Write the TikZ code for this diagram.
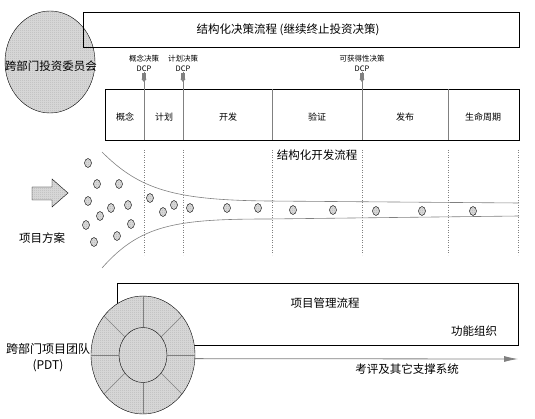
\documentclass[tikz,border=0pt]{standalone}
\usepackage{fontspec}
\setmainfont{Noto Sans CJK SC}
\usetikzlibrary{shapes.geometric,patterns,arrows.meta}

\pgfdeclarepatternformonly{finedots}{\pgfqpoint{-0.5pt}{-0.5pt}}{\pgfqpoint{1.5pt}{1.5pt}}%
  {\pgfqpoint{2pt}{2pt}}%
  {\pgfpathcircle{\pgfqpoint{0pt}{0pt}}{0.33pt}%
   \pgfpathcircle{\pgfqpoint{1pt}{1pt}}{0.33pt}%
   \pgfusepath{fill}}

\begin{document}
\begin{tikzpicture}[x=1pt,y=-1pt,
    box/.style={draw,line width=0.6pt},
    dotfill/.style={draw,preaction={fill=white},pattern=finedots},
    disc/.style={dotfill,ellipse,inner sep=0pt},
    seed/.style={dotfill,ellipse,inner sep=0pt,minimum width=7pt,minimum height=9pt},
    divider/.style={gray,line width=0.6pt},
    guide/.style={gray,dotted,line width=0.5pt},
    funnel/.style={gray,line width=0.6pt},
    dcptip/.style={gray,line width=4pt,-{Triangle[width=5pt,length=3pt]}},
    lbl/.style={inner sep=1pt,font=\fontsize{11.5}{13}\selectfont},
    phase/.style={inner sep=1pt,font=\fontsize{9}{10}\selectfont},
    dcp/.style={inner sep=0.5pt,align=center,font=\fontsize{7.5}{10}\selectfont}]
  \useasboundingbox (0,0) rectangle (535,419);

  % decision flow
  \node[disc,minimum width=90pt,minimum height=102pt] (boardc) at (50,62) {};
  \draw[box] (83,12) rectangle (519,47);
  \node[lbl] (topflow) at (288,30) {结构化决策流程 (继续终止投资决策)};
  \node[lbl] (board) at (51,66) {跨部门投资委员会};

  % phases
  \draw[box] (105,89) rectangle (519,140);
  \foreach \x/\str [count=\i] in {125/概念, 164/计划, 228/开发,
                                  317/验证, 405/发布, 483/生命周期}
    {\node[phase] (ph\i) at (\x,117) {\str};};
  \foreach \x in {272,448}
    {\draw[divider] (\x,89) -- (\x,140);};

  \node[dcp] (dcpA) at (144,63) {概念决策\\DCP};
  \node[dcp] (dcpB) at (183,63) {计划决策\\DCP};
  \node[dcp] (dcpC) at (362,63) {可获得性决策\\DCP};
  \foreach \n/\x in {A/144,B/183,C/362}
    {\coordinate (g\n) at (\x,140);
     \draw[divider] (dcp\n.south) -- (g\n);
     \draw[dcptip] ([yshift=-1pt]dcp\n.south) -- ++(0,9);};

  % development flow
  \foreach \x in {144,183,272,362,448,518}
    {\draw[guide] (\x,150) -- (\x,255);};
  \draw[funnel] (102,152) .. controls (140,190) and (175,200) .. (268,201) -- (519,203);
  \draw[funnel] (102,268) .. controls (140,225) and (175,219) .. (268,219) -- (519,216);
  \node[lbl] (devflow) at (317,155) {结构化开发流程};

  \foreach \x/\y [count=\i] in {88/163, 97/184, 119/184, 88/201, 128/205,
                                111/208, 100/216, 86/225, 131/224, 94/242,
                                117/236, 150/198, 163/212, 174/205, 190/208,
                                227/208, 258/208, 293/210, 333/210, 376/211,
                                422/211, 473/211}
    {\node[seed] (s\i) at (\x,\y) {};};

  \draw[dotfill] (32,187) -- (52,187) -- (52,179) -- (68,193) -- (52,207)
    -- (52,200) -- (32,200) -- cycle;
  \node[lbl] (plan) at (42,238) {项目方案};

  % project team
  \draw[box] (117,283) rectangle (518,345);
  \node[lbl] (pmflow) at (325,303) {项目管理流程};
  \node[lbl] (func) at (474,331) {功能组织};

  \node[disc,minimum width=104pt,minimum height=118pt] (ring) at (143,355) {};
  \node[disc,minimum width=48pt,minimum height=55pt] (core) at (143,355) {};
  \foreach \a in {0,45,...,315}
    {\draw[divider] (core.\a) -- (ring.\a);};

  \coordinate (sysend) at (518,359);
  \draw[gray,line width=0.8pt,-{Latex[length=14pt,width=6pt]}] (ring.-4) -- (sysend);
  \node[lbl] (support) at (407,369) {考评及其它支撑系统};
  \node[lbl,align=center,font=\fontsize{12}{16}\selectfont] (pdt) at (48,358) {跨部门项目团队\\(PDT)};
\end{tikzpicture}
\end{document}
